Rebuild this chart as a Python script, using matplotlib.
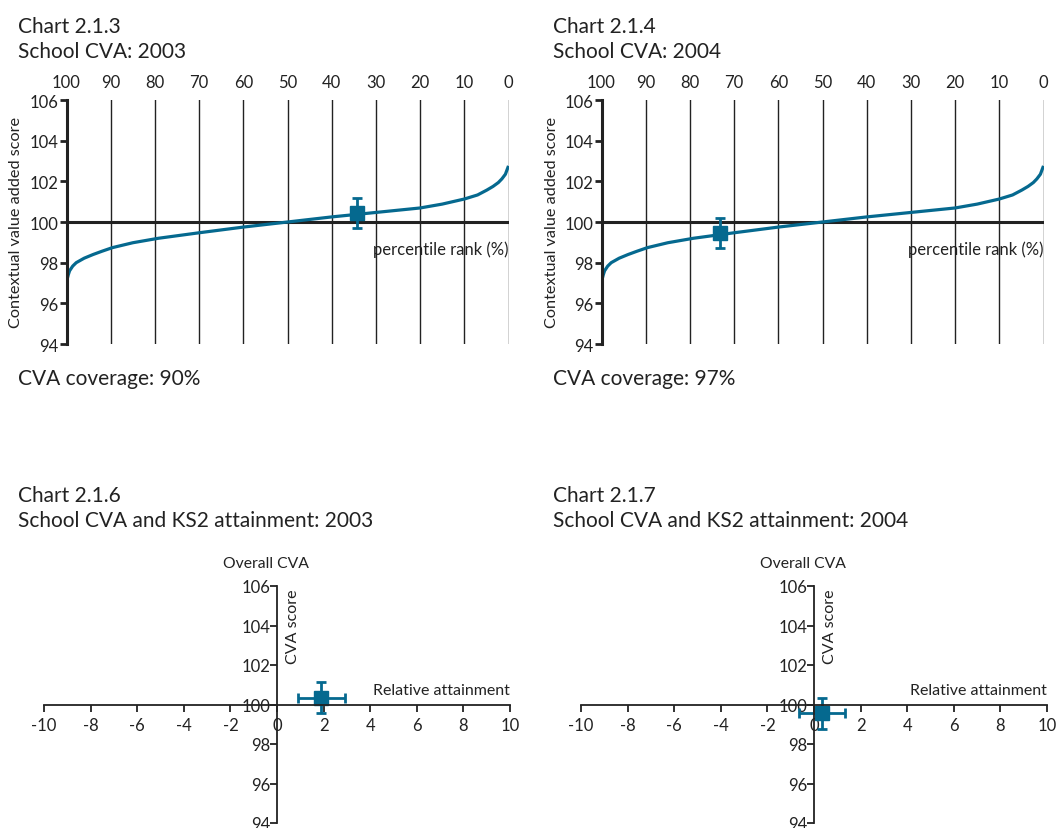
import matplotlib
matplotlib.use("Agg")
import matplotlib.pyplot as plt

plt.rcParams['font.family'] = ['Lato', 'DejaVu Sans']

W, H = 1056, 829
BLUE = '#05698f'
INK = '#222222'

# national CVA distribution, by percentile rank
pct_rank = [100, 99.6, 99.3, 98.6, 97.8, 96, 94, 92, 89.6, 85, 79.2, 70, 60,
            50, 40, 30, 20, 15, 10, 7, 4.9, 3.5, 2.3, 1.5, 0.7, 0]
nat_cva = [97.06, 97.4, 97.6, 97.83, 98.0, 98.22, 98.4, 98.56, 98.74, 98.98,
           99.2, 99.47, 99.75, 100.0, 100.25, 100.47, 100.69, 100.88, 101.13,
           101.33, 101.57, 101.75, 101.94, 102.12, 102.35, 102.76]

# school position on the distribution
years = ['2003', '2004']
school_rank = [34.3, 73.3]
school_cva = [100.45, 99.45]
school_cva_err = [0.75, 0.75]
coverage = ['90%', '97%']
rank_charts = ['Chart 2.1.3', 'Chart 2.1.4']

# CVA vs relative KS2 attainment
attain = [1.9, 0.35]
attain_err = [1.0, 1.0]
attain_cva = [100.35, 99.55]
attain_cva_err = [0.8, 0.8]
attain_charts = ['Chart 2.1.6', 'Chart 2.1.7']

rank_ticks = [100, 90, 80, 70, 60, 50, 40, 30, 20, 10, 0]
cva_ticks = [94, 96, 98, 100, 102, 104, 106]
attain_ticks = [-10, -8, -6, -4, -2, 0, 2, 4, 6, 8, 10]

fig = plt.figure(figsize=(W / 100, H / 100), dpi=100)


def px_axes(x0, y0, x1, y1):
    return fig.add_axes([x0 / W, 1 - y1 / H, (x1 - x0) / W, (y1 - y0) / H])


def px_text(x, y, s, **kw):
    kw.setdefault('color', INK)
    fig.text(x / W, 1 - y / H, s, **kw)


# top row: percentile rank charts
for i, (x0, tx) in enumerate([(66.5, 18), (601.5, 553)]):
    x1 = x0 + 442
    ax = px_axes(x0, 101, x1, 345)
    ax.set_xlim(100, 0)
    ax.set_ylim(94, 106)
    for s in ['top', 'right', 'bottom']:
        ax.spines[s].set_visible(False)
    ax.spines['left'].set_linewidth(2.2)
    ax.spines['left'].set_color(INK)
    ax.xaxis.tick_top()
    ax.set_xticks(rank_ticks)
    ax.set_xticklabels([str(t) for t in rank_ticks])
    ax.tick_params(axis='x', length=0, pad=7, labelsize=12, labelcolor=INK)
    ax.set_yticks(cva_ticks)
    ax.tick_params(axis='y', length=5, width=2, pad=1, labelsize=12,
                   color=INK, labelcolor=INK)
    for t in rank_ticks[1:]:
        ax.axvline(t, color=INK, lw=1)
    ax.axhline(100, color=INK, lw=2.2)
    ax.plot(pct_rank, nat_cva, color=BLUE, lw=2.3, solid_capstyle='butt')
    ax.errorbar(school_rank[i], school_cva[i], yerr=school_cva_err[i],
                fmt='s', color=BLUE, ms=10, elinewidth=2, capsize=3.5,
                capthick=2)
    ax.text(0, 98.7, 'percentile rank (%)', ha='right', va='center',
            fontsize=12, color=INK)
    px_text(x0 - 50, 222, 'Contextual value added score', rotation=90,
            ha='center', va='center', fontsize=11.7)
    px_text(tx, 33, rank_charts[i], fontsize=15)
    px_text(tx, 58, 'School CVA: ' + years[i], fontsize=15)
    px_text(tx, 385, 'CVA coverage: ' + coverage[i], fontsize=15)

# bottom row: CVA vs attainment quadrant charts
for i, (x0, tx) in enumerate([(44, 18), (581, 553)]):
    x1 = x0 + 466
    ax = px_axes(x0, 587, x1, 824)
    ax.set_xlim(-10, 10)
    ax.set_ylim(94, 106)
    ax.spines['top'].set_visible(False)
    ax.spines['right'].set_visible(False)
    ax.spines['left'].set_position(('data', 0))
    ax.spines['bottom'].set_position(('data', 100))
    for s in ['left', 'bottom']:
        ax.spines[s].set_linewidth(1.3)
        ax.spines[s].set_color(INK)
    ax.set_xticks(attain_ticks)
    ax.set_xticklabels([str(t) for t in attain_ticks])
    ax.set_yticks(cva_ticks)
    ax.tick_params(axis='x', direction='out', length=5, width=1.3, pad=4,
                   labelsize=12, color=INK, labelcolor=INK)
    ax.tick_params(axis='y', direction='out', length=5, width=1.3, pad=0,
                   labelsize=12, color=INK, labelcolor=INK)
    ax.errorbar(attain[i], attain_cva[i], xerr=attain_err[i],
                yerr=attain_cva_err[i], fmt='s', color=BLUE, ms=10,
                elinewidth=2, capsize=3.5, capthick=2, clip_on=False)
    ax.text(10, 100.4, 'Relative attainment', ha='right', va='bottom',
            fontsize=11.5, color=INK)
    xa = x0 + 233
    px_text(xa - 11, 568, 'Overall CVA', ha='center', fontsize=11.3)
    px_text(xa + 16, 627, 'CVA score', rotation=90, ha='center',
            va='center', fontsize=11.5)
    px_text(tx, 502, attain_charts[i], fontsize=15)
    px_text(tx, 527, 'School CVA and KS2 attainment: ' + years[i],
            fontsize=15)

fig.savefig('out.png', dpi=100)
